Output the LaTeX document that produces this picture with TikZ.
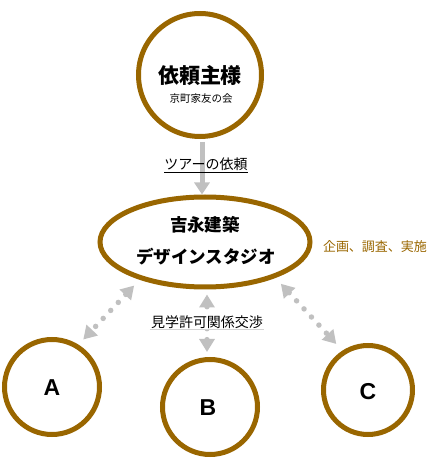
\documentclass[tikz,border=0pt]{standalone}
\usepackage{fontspec}
\setmainfont{Noto Sans CJK JP}
\newfontfamily\latinsans{Liberation Sans}
\usepackage{tikz}
\usetikzlibrary{shapes.geometric, arrows.meta, positioning}
\usepackage{xcolor}
\definecolor{ochre}{HTML}{996600}
\definecolor{linkgray}{HTML}{C0C0C0}

\begin{document}
\begin{tikzpicture}[x=1pt, y=1pt,
    party/.style={circle, draw=ochre, line width=5pt, fill=white, inner sep=0pt},
    hub/.style={ellipse, draw=ochre, line width=5pt, fill=white, inner sep=0pt, minimum width=210pt, minimum height=90pt},
    tag/.style={font=\latinsans\bfseries\fontsize{23}{23}\selectfont},
    flow/.style={-{Triangle[length=12pt, width=15pt]}, linkgray, line width=5pt},
    link/.style={{Triangle[length=13pt, width=15pt]}-{Triangle[length=13pt, width=15pt]}, linkgray, line width=5.5pt, line cap=round, dash pattern=on 0pt off 11pt}]
    \useasboundingbox (0,0) rectangle (441,459);

    % Client
    \node[party, minimum size=123pt] (client) at (200,384) {};
    \node[font=\bfseries\fontsize{21}{21}\selectfont] (clienttitle) at (200,383) {依頼主様};
    \node[font=\fontsize{10.5}{11}\selectfont] (clientsub) at (201,360) {京町家友の会};

    % Studio
    \node[hub] (studio) at (205,217) {};
    \node[font=\bfseries\fontsize{17.5}{18}\selectfont] (studiotop) at (205,234) {吉永建築};
    \node[font=\bfseries\fontsize{17.5}{18}\selectfont] (studiobot) at (206,202) {デザインスタジオ};
    \node[font=\fontsize{13}{13}\selectfont, text=ochre] (tasks) at (375,212) {企画、調査、実施};

    % Buildings
    \node[party, minimum size=95pt] (a) at (52,72) {};
    \node[party, minimum size=95pt] (b) at (210,52) {};
    \node[party, minimum size=89pt] (c) at (368,69) {};
    \node[tag] (alabel) at (52,71) {A};
    \node[tag] (blabel) at (208,51) {B};
    \node[tag] (clabel) at (368,67) {C};

    % Request
    \draw[flow] (client.south) ++(2,-3) coordinate (reqstart) -- (reqstart |- studio.north);
    \node[font=\fontsize{14}{14}\selectfont] (request) at (206,294) {\underline{ツアーの依頼}};

    % Negotiations
    \draw[link, shorten <=8pt, shorten >=7pt] (studio.210) -- (a.58);
    \draw[link, shorten <=8pt, shorten >=9pt] (studio.333) -- (c.123);
    \draw[link, shorten <=5pt, shorten >=5pt] (studio.south) ++(2,0) coordinate (negstart) -- (negstart |- b.north);
    \node[fill=white, inner sep=1pt, font=\fontsize{14}{14}\selectfont] (permit) at (207,137) {見学許可関係交渉};
    \draw[linkgray!70, line width=0.8pt] (permit.south west) -- (permit.south east);
\end{tikzpicture}
\end{document}
